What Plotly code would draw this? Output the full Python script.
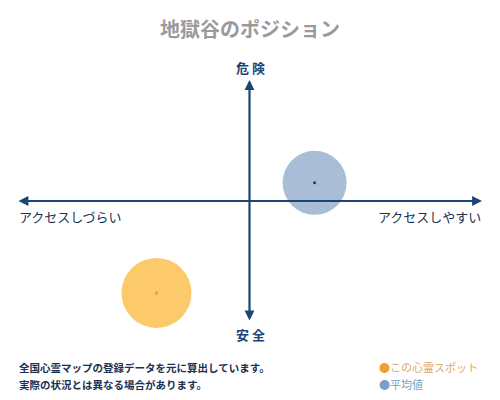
import plotly.graph_objects as go

# 位置データ (-100〜100 のスコア)
spot_names = ["この心霊スポット", "平均値"]
access_score = [-40, 28]
danger_score = [-76, 15]
bubble_size = [70, 64]
bubble_colors = ["#fcc96b", "#a9bdd6"]
dot_colors = ["#f2a000", "#1b3a60"]

navy = "#1b4674"
jp_font = "Noto Sans CJK JP"

# ページの余白 (body margin 8px) を差し引く
OFF = 8
# プロット領域 (画面ピクセル)
L, R, T, B = 17 - OFF, 482 - OFF, 80 - OFF, 322 - OFF

fig = go.Figure()

# 円
fig.add_trace(go.Scatter(
    x=access_score, y=danger_score, mode="markers", cliponaxis=False,
    marker=dict(size=bubble_size, color=bubble_colors, opacity=1, line=dict(width=0)),
    hoverinfo="skip", showlegend=False,
))
# 中心の点
fig.add_trace(go.Scatter(
    x=access_score, y=danger_score, mode="markers", cliponaxis=False,
    marker=dict(size=3, color=dot_colors, opacity=1),
    hoverinfo="skip", showlegend=False,
))

# 軸の矢印 (両端)
for tx, ty, sx, sy in [(100, 0, -100, 0), (0, 100, 0, -100)]:
    fig.add_annotation(
        x=tx, y=ty, ax=sx, ay=sy, xref="x", yref="y", axref="x", ayref="y",
        text="", showarrow=True, arrowhead=2, startarrowhead=2, arrowside="end+start",
        arrowsize=0.9, startarrowsize=0.9, arrowwidth=2.2, arrowcolor=navy, standoff=0, startstandoff=0,
    )

annots = [
    dict(x=250, y=67, text="<b>危 険</b>", xanchor="center", font=dict(family=jp_font, size=13, color=navy)),
    dict(x=250, y=334, text="<b>安 全</b>", xanchor="center", font=dict(family=jp_font, size=13, color=navy)),
    dict(x=17, y=216, text="アクセスしづらい", xanchor="left", font=dict(family=jp_font, size=13, color="#1b3050")),
    dict(x=483, y=216, text="アクセスしやすい", xanchor="right", font=dict(family=jp_font, size=13, color="#1b3050")),
    dict(x=17, y=367, text="<b>全国心霊マップの登録データを元に算出しています。</b>", xanchor="left",
         font=dict(family=jp_font, size=10.5, color="#1b3050")),
    dict(x=17, y=384, text="<b>実際の状況とは異なる場合があります。</b>", xanchor="left",
         font=dict(family=jp_font, size=10.5, color="#1b3050")),
    dict(x=377, y=367, text="<span style='color:#f0a030'>●</span>" + spot_names[0], xanchor="left",
         font=dict(family=jp_font, size=11, color="#e0a868")),
    dict(x=377, y=384, text="<span style='color:#7a9fc4'>●</span>" + spot_names[1], xanchor="left",
         font=dict(family=jp_font, size=11, color="#7a9fc4")),
    dict(x=250, y=29, text="<b>地獄谷のポジション</b>", xanchor="center",
         font=dict(family=jp_font, size=20, color="#9a9a9a")),
]
for a in annots:
    px, py = a["x"] - OFF, a["y"] - OFF
    fig.add_annotation(
        x=(px - L) / (R - L), y=(B - py) / (B - T), xref="paper", yref="paper",
        text=a["text"], xanchor=a["xanchor"], yanchor="middle", showarrow=False, font=a["font"],
    )

fig.update_layout(
    width=500, height=400,
    margin=dict(l=L, r=500 - R, t=T, b=400 - B, pad=0),
    paper_bgcolor="white", plot_bgcolor="white",
    xaxis=dict(range=[-100, 100], visible=False, fixedrange=True),
    yaxis=dict(range=[-100, 100], visible=False, fixedrange=True),
)

fig.write_html("out.html")
